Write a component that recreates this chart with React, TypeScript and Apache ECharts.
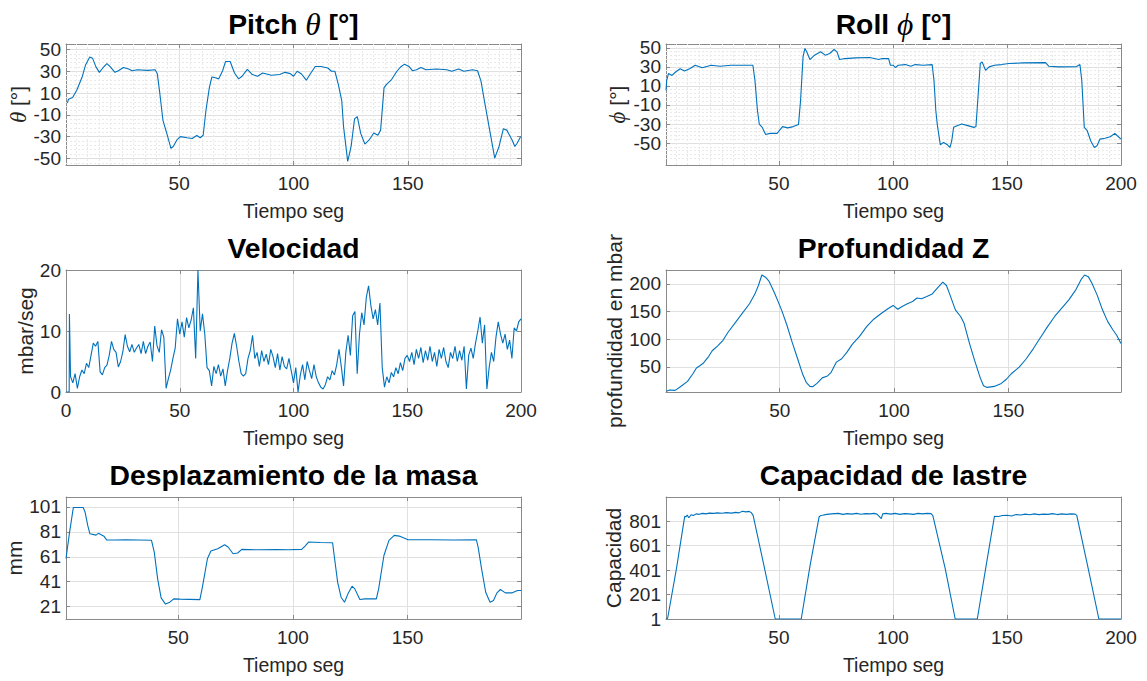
import React, { useEffect, useRef } from "react";
import * as echarts from "echarts";

const FONT = "'Liberation Sans', Arial, Helvetica, sans-serif";
const SERIF = "'Liberation Serif', 'DejaVu Serif', serif";
const LINE = "#0072BD";
const AXIS = "#8a8a8a";
const TEXT = "#262626";
const GRID_MAJOR = "#e0e0e0";
const GRID_MINOR = "#e9e9e9";

// ---------- Tick labels ----------
const X_TICKS_A = [50, 100, 150];
const X_TICKS_B = [50, 100, 150, 200];
const X_TICKS_C = [0, 50, 100, 150, 200];
const ANGLE_TICKS = [-50, -30, -10, 10, 30, 50];
const VEL_TICKS = [0, 10, 20];
const DEPTH_TICKS = [50, 100, 150, 200];
const MASS_TICKS = [21, 41, 61, 81, 101];
const CAP_TICKS = [1, 201, 401, 601, 801];

// ---------- Pitch θ ----------
const PITCH_T = [1.1, 1.6, 3.4, 5.3, 7.6, 9.1, 10.9, 12.1, 13.6, 15.1, 16.6, 18.4, 19.9, 21.9, 23.4, 25.6, 27.9, 29.4, 31.7, 36.2,
  39.5, 40.4, 41.4, 42.9, 44.4, 46.4, 47.4, 49, 50.5, 53.5, 55.7, 57.7, 59.2, 60.5, 61.7, 63.2, 64.3, 65.8, 67.3, 69,
  70.3, 72.3, 74.2, 76, 77.5, 79.8, 82, 84.3, 86.5, 90.3, 94, 96.3, 98.6, 100, 101.6, 103.5, 105.6, 107.6, 109.5, 112,
  115, 116.6, 118.1, 119.6, 121.1, 121.9, 123.7, 125.2, 126.7, 127.9, 129.4, 131.2, 133.1, 135.1, 136.9, 138.1, 139.6, 140.7, 142.9, 145.2,
  147.1, 148.6, 150.5, 152, 153.8, 155.7, 158, 162.5, 167, 169.2, 172.2, 174.5, 178.3, 180.5, 182, 183.5, 185.8, 188, 189.9, 191.8,
  193.3, 195.6, 196.8, 197.8, 199.3];
const PITCH_V = [0.9, 4.4, 5.9, 13, 25, 36, 43, 42, 34, 29, 33, 37, 34, 29, 30.5, 33.5, 32, 30.5, 31.4, 30.8,
  31.4, 28, 12, -15, -25.7, -40.7, -39, -33, -30, -31, -31.7, -29, -31, -28.7, -6, 15, 24.8, 24, 23, 30.5,
  39, 39, 28.4, 23, 25.4, 31.7, 27, 25.4, 28.4, 26.3, 27, 29, 27.8, 25.4, 30, 27.5, 21.8, 28.4, 34.4, 34.4,
  33, 30, 30, 18, 3, -21, -52.7, -39, -13.7, -11.6, -27, -36.8, -33, -26.6, -28.7, -24, 15, 18, 22.4, 30,
  34.4, 36.5, 34.4, 30.5, 31.4, 33.5, 31.4, 32, 31.4, 30, 32, 30, 31.4, 30.5, 21, 2.9, -24, -49.7, -39, -22.7,
  -24, -33, -39, -36, -30];

// ---------- Roll ϕ ----------
const ROLL_T = [0.5, 0.8, 1.6, 3.1, 4.7, 6.7, 8.6, 10.9, 13.3, 16.4, 20.3, 24.2, 28.9, 38.6, 39.5, 40.6, 41.4, 42.7, 44.2, 46.1,
  49.2, 51.6, 53.9, 56.3, 58.6, 59.5, 60.6, 61.4, 62.2, 63.6, 65.6, 68.3, 70.3, 72.3, 74.2, 75.5, 76.6, 78.9, 83.6, 89.8,
  93.8, 95.3, 98.1, 98.9, 100.2, 101.1, 102.3, 105.5, 107.8, 109.8, 113.3, 117.2, 118, 118.8, 119.5, 120.8, 122.2, 123.9, 125, 125.8,
  126.6, 128.1, 130.2, 132.8, 135.5, 136.4, 137.5, 138.3, 139.1, 140.6, 142.2, 144.5, 147.7, 150.8, 157, 166.9, 168.4, 172.7, 180.5, 182,
  182.8, 183.9, 185.2, 186.7, 188.3, 189.5, 190.8, 193, 195.3, 197.3, 198.4, 200];
const ROLL_V = [5.3, 15.8, 23, 21, 24.6, 28, 25.7, 28, 31.7, 29, 31.7, 30.6, 31.7, 31.7, 15.8, -15.8, -30, -33.5, -41, -39.8,
  -39.8, -32.7, -34, -32.7, -30.6, -5.3, 40.5, 49.3, 45.8, 37.7, 42.3, 45.8, 42.3, 44, 48.2, 45.8, 37.7, 38.7, 39.4, 39.8,
  37.7, 38.7, 38.7, 31.7, 31.7, 29.2, 31.7, 32.4, 30.6, 32.4, 31.7, 32.4, 15.8, -15.8, -31.7, -51.8, -49.3, -51.8, -54.6, -47.5,
  -33.5, -31.7, -30, -31.7, -33.5, -32.7, 5.3, 33.5, 35.2, 26.4, 30, 31.7, 32.4, 33.5, 34.2, 34.5, 30.6, 30, 30.3, 32.4,
  15.8, -33.5, -37, -47.5, -54.6, -52.8, -45.8, -45, -43.3, -39.8, -42.3, -45.8];

// ---------- Velocidad ----------
const VEL_T_HEAD = [0, 1.4, 1.5];
const VEL_V = [0, 0, 12.8,
  2.5, 1.5, 3, 0.6, 2.5, 3.6, 3, 4.7, 4, 6, 8, 7.5, 8.3, 3.3, 2.8, 4, 4.4, 6, 8.3,
  7, 6.5, 4.1, 5, 6.6, 9.4, 7.5, 6.6, 7.8, 6.5, 7.2, 7.8, 6.3, 8.3, 6.3, 7.5, 8.2, 5, 10.8,
  7.6, 6.5, 10.2, 9, 0.6, 2.2, 3.6, 5.5, 7.2, 12, 9.5, 11.5, 9, 12.2, 10.5, 11.8, 13.8, 5.5, 20,
  10, 12.8, 9.5, 4, 3.5, 1, 4.2, 3, 4.5, 2.6, 3.8, 1, 3.5, 5.5, 8, 9.6, 7.5, 5, 3, 2.6,
  3, 5.5, 6.8, 9.3, 5.5, 6.5, 4.2, 6.8, 5, 6.2, 4.5, 7, 5.8, 4, 6.3, 3.6, 5.8, 4.2, 3.8, 5.5,
  3.5, 1.5, 4, 0, 2.8, 4.5, 2, 5, 3.5, 2.2, 4.5, 2.5, 1.5, 0.8, 0.5, 1.2, 2.5, 2, 3.5, 2.8,
  4.5, 7, 4.2, 1, 6.5, 9.3, 6, 12.5, 13.2, 3, 9.5, 13, 11, 15.5, 17.4, 14.2, 12, 13.5, 11, 14.6,
  4, 0.8, 2.5, 1.5, 3.2, 2.5, 4, 3, 4.8, 3.5, 5.5, 6, 5, 6.5, 4.5, 7, 5.5, 7.3, 4.8, 6.8,
  5.2, 7.5, 5, 6.5, 4.2, 7, 5.5, 7.3, 5, 4, 6.5, 5.5, 7.5, 5, 6.8, 5.2, 7.5, 0.5, 6, 7.2,
  5.5, 8, 10, 12.3, 8, 11, 0.5, 4, 6.5, 5, 9, 11.5, 9.5, 8, 9.5, 7, 8.5, 5.5, 10.5, 10,
  11.5, 12];
const VEL_T = VEL_V.map((_, i) => (i < VEL_T_HEAD.length ? VEL_T_HEAD[i] : i - 1));

// ---------- Profundidad Z ----------
const DEPTH_T = [0.5, 1.9, 4.3, 6.6, 9.7, 12, 13.6, 15.1, 16.7, 19, 20.5, 22.9, 25.2, 27.5, 30.6, 33.7, 36.8, 39.1, 40.7, 42.2,
  43.8, 45.3, 47.7, 50.8, 53.1, 55.4, 57.8, 60.1, 61.6, 63.2, 64.4, 66.3, 68.6, 70.9, 72.5, 74.8, 77.1, 79.5, 81.8, 84.9,
  88, 91.1, 94.2, 97.3, 99.6, 101.6, 103.5, 105.8, 108.1, 110, 112, 114.3, 116.7, 119, 121.3, 122.9, 124.4, 126.8, 129.1, 130.6,
  133, 135.2, 137.6, 139.1, 140.7, 143.8, 146.9, 149.2, 151.5, 154.7, 157.8, 160.9, 164, 167.1, 170.2, 173.3, 176.4, 179.5, 181.8, 183.3,
  184.9, 186.4, 188.7, 191.1, 193.4, 195.7, 197.3, 199.2];
const DEPTH_V = [6, 8, 7.5, 14, 23.8, 37, 48, 52, 57, 69, 79, 88, 98, 113, 130, 147, 164, 181, 197, 216,
  212, 205, 184, 153, 126, 95, 65, 36, 22, 14.6, 14, 20, 30, 33.5, 40, 58.5, 64.6, 77, 91, 105,
  122.6, 136, 146, 155, 161, 154, 159, 164, 168, 174.4, 173, 177, 181.7, 192.7, 203, 197, 180.5, 153, 141, 128.7,
  92, 61.6, 31, 15.8, 12.8, 14.6, 20, 28, 38.4, 49.4, 64.6, 83, 103, 122.6, 141, 156, 171, 189.6, 208, 216,
  213, 202, 180.5, 153, 131.7, 116.5, 107, 92];

// ---------- Desplazamiento de la masa ----------
const MASS_T = [1, 2.5, 4.2, 8.5, 9.3, 10.5, 11.4, 14.1, 15.1, 17.6, 18.8, 22.3, 27, 32.8, 38.3, 39.5, 41, 42.5, 44.4, 46.3,
  48, 50.8, 55, 59.4, 60.5, 62.7, 64.2, 67.2, 70.2, 71.7, 73.9, 75.9, 77.7, 85.1, 92.6, 98, 103.8, 105.3, 106.8, 112,
  117.3, 118, 119.5, 121, 122.5, 124, 125.8, 127, 129.2, 131.5, 134.5, 136.4, 137.4, 139.7, 141.9, 144.2, 146.4, 150.2, 159.9, 170,
  180, 180.8, 182.3, 184.1, 186, 187.5, 189, 190.5, 192.7, 195.7, 198, 199.5];
const MASS_V = [59.6, 80, 100.6, 100.6, 97, 86, 79.5, 78.4, 79.8, 77.4, 74.4, 74.4, 74.6, 74.4, 74.2, 64.8, 43, 28, 23, 24.5,
  27.2, 27, 26.8, 26.6, 36.6, 59.4, 65.6, 67.5, 70.7, 68.8, 63.4, 64, 66.9, 66.6, 66.8, 66.6, 66.9, 69.6, 72.8, 72.5,
  72.3, 62, 40.6, 28.5, 24.5, 31.2, 37.4, 35.2, 26.6, 27.2, 27.2, 27.2, 35.2, 62, 74.2, 78.2, 77.6, 74.7, 74.7, 74.5,
  74.7, 68.8, 51.3, 32.5, 24.5, 25.8, 32, 34.7, 32, 32, 33.9, 33.9];

// ---------- Capacidad de lastre ----------
const CAP_T = [0.5, 1.2, 5.1, 8.7, 9.2, 9.8, 10.5, 11.5, 12.5, 13.7, 15, 16.5, 18, 19.5, 21.5, 23, 25, 27, 29.3, 31,
  32.5, 34, 35.5, 37, 37.9, 38.7, 43.4, 48.4, 59.8, 63.7, 67.6, 68.3, 69.1, 71, 73, 76.1, 78, 80, 82, 84,
  86, 88, 90, 91.7, 93, 94.9, 95.5, 97, 99, 101, 103, 105, 107, 109, 111, 113, 115, 116.7, 117.5, 122.9,
  127.3, 137, 140.9, 144.5, 146.3, 148, 150.2, 152, 154, 156, 158, 160, 162, 164, 166, 168, 170, 172, 174, 176,
  178, 179.9, 180.6, 185.3, 190.3, 200];
const CAP_V = [1, 5, 415, 842, 838, 852, 830, 855, 848, 862, 858, 866, 862, 868, 866, 870, 867, 872, 868, 874,
  870, 883, 878, 882, 872, 850, 442, 1, 1, 442, 836, 848, 850, 858, 862, 866, 858, 864, 860, 866,
  859, 864, 862, 866, 860, 823, 862, 866, 860, 866, 858, 864, 862, 858, 866, 862, 866, 864, 848, 415,
  1, 1, 442, 842, 840, 848, 850, 845, 856, 852, 860, 854, 862, 856, 860, 858, 864, 856, 862, 858,
  862, 860, 850, 442, 1, 1];

// ---------- Layout ----------
const COL_LEFT = [66, 666];
const ROW_TOP = [44, 270, 497];
const ROW_H = [121, 122, 122];
const PLOT_W = 455;

function gridSteps(from: number, to: number, step: number, skip: (v: number) => boolean) {
  const out: number[] = [];
  for (let v = from; v <= to + 1e-9; v += step) if (!skip(v)) out.push(v);
  return out;
}
const MINOR_X = gridSteps(5, 195, 5, (v) => v % 50 === 0);
const PITCH_MINOR_Y = gridSteps(-54, 46, 4, (v) => (v + 50) % 20 === 0);
const ROLL_MINOR_Y = gridSteps(-70, 46, 4, (v) => (v + 50) % 20 === 0);

type Panel = {
  title: string;
  yName: string;
  col: number;
  row: number;
  x: [number, number];
  xTicks: number[];
  y: [number, number];
  yTicks: number[];
  yGap: number;
  t: number[];
  v: number[];
  minorX?: number[];
  minorY?: number[];
};

const PANELS: Panel[] = [
  { title: "{n|Pitch }{g|θ}{n| [°]}", yName: "{g|θ} [°]", col: 0, row: 0, x: [0.5, 199.5], xTicks: X_TICKS_A,
    y: [-56, 55], yTicks: ANGLE_TICKS, yGap: 36, t: PITCH_T, v: PITCH_V, minorX: MINOR_X, minorY: PITCH_MINOR_Y },
  { title: "{n|Roll }{g|ϕ}{n| [°]}", yName: "{g|ϕ} [°]", col: 1, row: 0, x: [0.5, 200], xTicks: X_TICKS_B,
    y: [-73, 54], yTicks: ANGLE_TICKS, yGap: 37, t: ROLL_T, v: ROLL_V, minorX: MINOR_X, minorY: ROLL_MINOR_Y },
  { title: "{n|Velocidad}", yName: "mbar/seg", col: 0, row: 1, x: [0, 200], xTicks: X_TICKS_C,
    y: [0, 20], yTicks: VEL_TICKS, yGap: 30, t: VEL_T, v: VEL_V },
  { title: "{n|Profundidad Z}", yName: "profundidad en mbar", col: 1, row: 1, x: [0.3, 199.2], xTicks: X_TICKS_A,
    y: [4.5, 225], yTicks: DEPTH_TICKS, yGap: 40, t: DEPTH_T, v: DEPTH_V },
  { title: "{n|Desplazamiento de la masa}", yName: "mm", col: 0, row: 2, x: [1, 199.5], xTicks: X_TICKS_A,
    y: [11, 109], yTicks: MASS_TICKS, yGap: 38, t: MASS_T, v: MASS_V },
  { title: "{n|Capacidad de lastre}", yName: "Capacidad", col: 1, row: 2, x: [0.5, 200], xTicks: X_TICKS_B,
    y: [1, 1000], yTicks: CAP_TICKS, yGap: 42, t: CAP_T, v: CAP_V },
];

const GREEK_RICH = {
  g: { fontFamily: SERIF, fontStyle: "italic" as const, fontWeight: "normal" as const, fontSize: 23, color: TEXT },
};

function buildOption() {
  const grid: any[] = [];
  const xAxis: any[] = [];
  const yAxis: any[] = [];
  const series: any[] = [];
  const graphic: any[] = [];

  PANELS.forEach((p, i) => {
    const left = COL_LEFT[p.col];
    const top = ROW_TOP[p.row];
    const h = ROW_H[p.row];
    grid.push({ left, top, width: PLOT_W, height: h, containLabel: false });

    const tickStyle = { color: AXIS, width: 1 };
    xAxis.push({
      type: "value", gridIndex: i, position: "bottom", min: p.x[0], max: p.x[1],
      name: "Tiempo seg", nameLocation: "middle", nameGap: 36,
      nameTextStyle: { fontFamily: FONT, fontSize: 19.5, color: TEXT },
      axisLine: { show: true, onZero: false, lineStyle: { color: AXIS, width: 1 } },
      axisTick: { show: true, inside: true, length: 4, customValues: p.xTicks, lineStyle: tickStyle },
      axisLabel: { show: true, customValues: p.xTicks, margin: 9, fontFamily: FONT, fontSize: 19, color: TEXT },
      splitLine: { show: true, lineStyle: { color: GRID_MAJOR, width: 1 } },
    });
    xAxis.push({
      type: "value", gridIndex: i, position: "top", min: p.x[0], max: p.x[1],
      axisLine: { show: true, onZero: false, lineStyle: { color: AXIS, width: 1 } },
      axisTick: { show: true, inside: true, length: 4, customValues: p.xTicks, lineStyle: tickStyle },
      axisLabel: { show: false },
      splitLine: { show: false },
    });
    yAxis.push({
      type: "value", gridIndex: i, position: "left", min: p.y[0], max: p.y[1],
      name: p.yName, nameLocation: "middle", nameGap: p.yGap,
      nameTextStyle: { fontFamily: FONT, fontSize: 21, color: TEXT, rich: GREEK_RICH },
      axisLine: { show: true, onZero: false, lineStyle: { color: AXIS, width: 1 } },
      axisTick: { show: true, inside: true, length: 4, customValues: p.yTicks, lineStyle: tickStyle },
      axisLabel: { show: true, customValues: p.yTicks, margin: 5, fontFamily: FONT, fontSize: 19, color: TEXT },
      splitLine: { show: true, lineStyle: { color: GRID_MAJOR, width: 1 } },
    });
    yAxis.push({
      type: "value", gridIndex: i, position: "right", min: p.y[0], max: p.y[1],
      axisLine: { show: true, onZero: false, lineStyle: { color: AXIS, width: 1 } },
      axisTick: { show: true, inside: true, length: 4, customValues: p.yTicks, lineStyle: tickStyle },
      axisLabel: { show: false },
      splitLine: { show: false },
    });

    const s: any = {
      type: "line", xAxisIndex: 2 * i, yAxisIndex: 2 * i,
      data: p.t.map((t, k) => [t, p.v[k]]),
      showSymbol: false, symbol: "none", silent: true, clip: true, z: 3,
      lineStyle: { color: LINE, width: 1.1 }, itemStyle: { color: LINE },
    };
    if (p.minorX || p.minorY) {
      s.markLine = {
        silent: true, symbol: ["none", "none"], z: 1, animation: false,
        label: { show: false }, emphasis: { disabled: true },
        lineStyle: { color: GRID_MINOR, type: [2, 2], width: 1 },
        data: [
          ...(p.minorY || []).map((v) => ({ yAxis: v })),
          ...(p.minorX || []).map((v) => ({ xAxis: v })),
        ],
      };
    }
    series.push(s);

    graphic.push({
      type: "text",
      x: left + PLOT_W / 2,
      y: top - 36,
      style: {
        text: p.title,
        align: "center",
        verticalAlign: "top",
        textAlign: "center",
        textVerticalAlign: "top",
        fill: "#000",
        rich: {
          n: { fontFamily: FONT, fontWeight: "bold", fontSize: 28.3, color: "#000" },
          g: { fontFamily: SERIF, fontStyle: "italic", fontWeight: "normal", fontSize: 31.5, color: "#000" },
        },
      },
    });
  });

  return { animation: false, backgroundColor: "#ffffff", grid, xAxis, yAxis, series, graphic };
}

export default function App() {
  const ref = useRef<HTMLDivElement>(null);
  useEffect(() => {
    if (!ref.current) return;
    const chart = echarts.init(ref.current, undefined, { renderer: "svg" });
    chart.setOption(buildOption() as any);
    return () => chart.dispose();
  }, []);
  return (
    <div
      ref={ref}
      style={{ position: "fixed", left: 0, top: 0, width: 1147, height: 681, background: "#fff" }}
    />
  );
}
